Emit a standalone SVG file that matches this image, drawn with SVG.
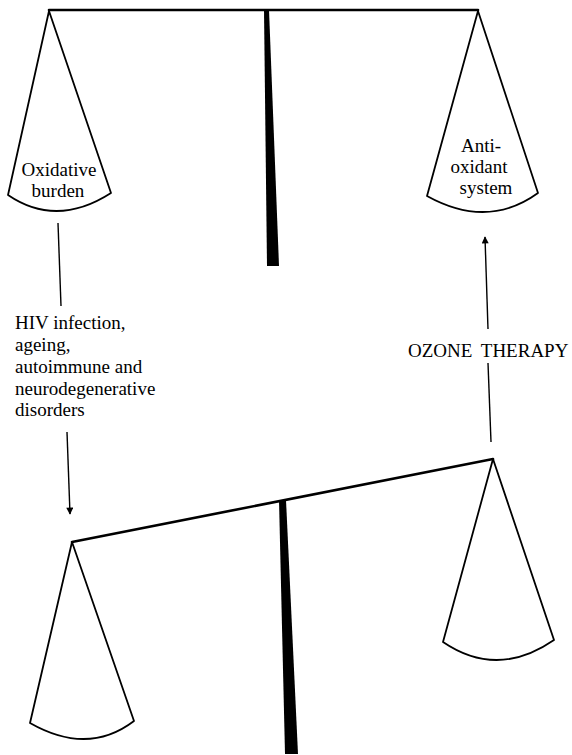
<svg xmlns="http://www.w3.org/2000/svg" width="572" height="755" viewBox="0 0 572 755">
<style>
  .beam{fill:none;stroke:#000;stroke-width:2.6;stroke-linecap:round;stroke-linejoin:round}
  .pan{fill:#fff;stroke:#000;stroke-width:1.8;stroke-linejoin:round}
  .pole{fill:#000;stroke:none}
  .arrow{fill:none;stroke:#000;stroke-width:1.4}
  .lbl{font-family:"Liberation Serif","Times New Roman",serif;font-size:19px;fill:#000}
</style>
<defs>
  <marker id="ah" viewBox="0 0 10 10" refX="9" refY="5" markerWidth="10" markerHeight="7" markerUnits="userSpaceOnUse" orient="auto">
    <path d="M0,0 L10,5 L0,10 Z" fill="#000"/>
  </marker>
</defs>
<g id="top-balance">
  <polygon class="pole" points="264,10 269,10 279,266 267,266"/>
  <path class="beam" d="M49,10 L478,10"/>
</g>
<g id="oxidative-burden">
  <path class="pan" d="M49,11 L8,195 Q56.5,228 111,193 Z"/>
  <text class="lbl" text-anchor="middle"><tspan x="59" y="176">Oxidative</tspan><tspan x="58" y="197">burden</tspan></text>
</g>
<g id="antioxidant-system">
  <path class="pan" d="M478,11 L427,196 Q487.5,229.5 538,193 Z"/>
  <text class="lbl" text-anchor="middle"><tspan x="481" y="152">Anti-</tspan><tspan x="479" y="173">oxidant</tspan><tspan x="486" y="194">system</tspan></text>
</g>
<g id="bottom-balance">
  <polygon class="pole" points="279,500 286,500 298,754 285,754"/>
  <path class="beam" d="M72,542 L493,459"/>
</g>
<g id="bottom-left-pan">
  <path class="pan" d="M72,542 L30,723 Q88,756 134,721 Z"/>
</g>
<g id="bottom-right-pan">
  <path class="pan" d="M493,459 L443,642 Q497.5,679 554,640 Z"/>
</g>
<g id="disorders-label">
  <text class="lbl"><tspan x="15" y="329">HIV infection,</tspan><tspan x="15" y="351">ageing,</tspan><tspan x="15" y="373">autoimmune and</tspan><tspan x="15" y="395">neurodegenerative</tspan><tspan x="15" y="416">disorders</tspan></text>
</g>
<g id="ozone-label">
  <text class="lbl" x="408" y="357" word-spacing="4">OZONE THERAPY</text>
</g>
<g id="connectors">
  <path class="arrow" d="M58,223 L61,306"/>
  <path class="arrow" d="M67,432 L70,514" marker-end="url(#ah)"/>
  <path class="arrow" d="M491,442 L488,363"/>
  <path class="arrow" d="M488,329 L485,237" marker-end="url(#ah)"/>
</g>
</svg>
